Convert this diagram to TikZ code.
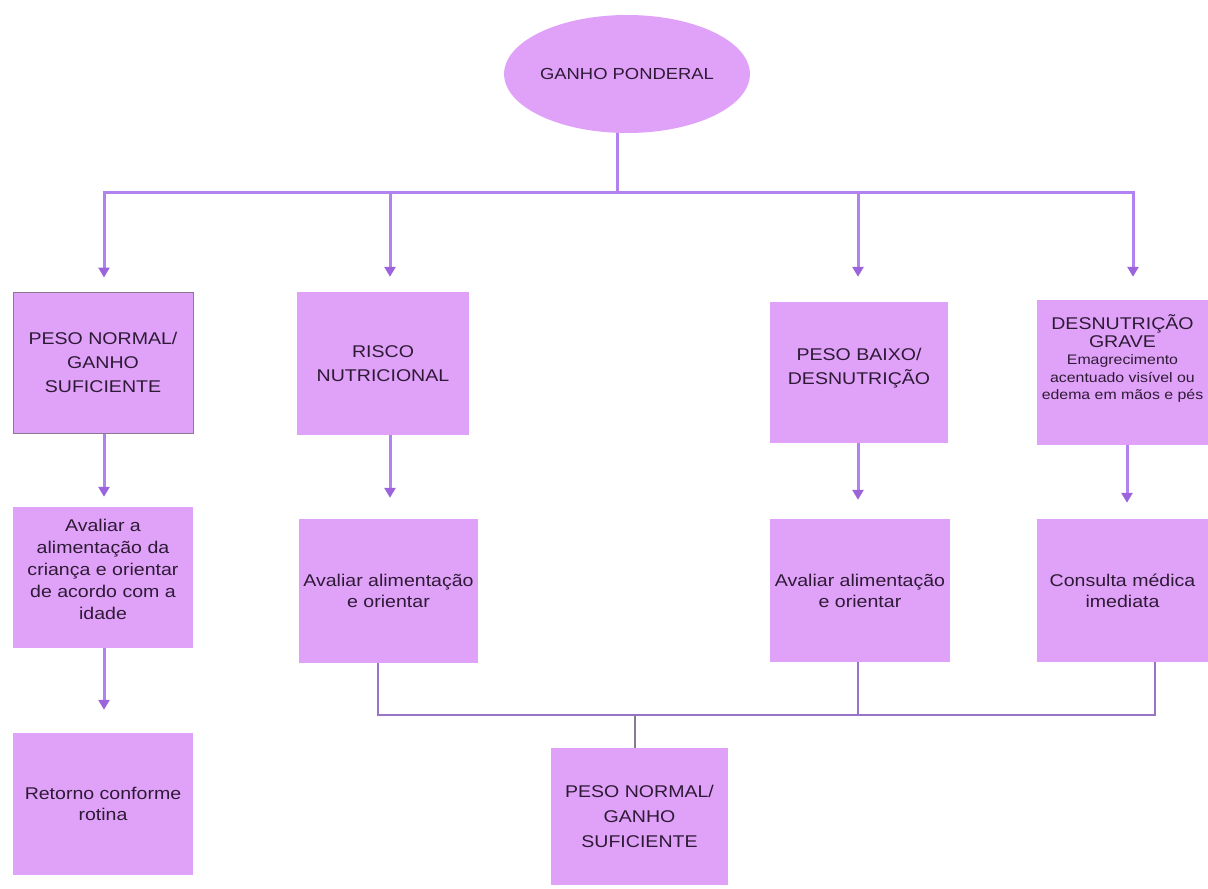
\documentclass[tikz,border=0pt]{standalone}
\usepackage{fontspec}
\setmainfont{Liberation Sans}[FakeStretch=1.15]
\usetikzlibrary{arrows.meta,shapes.geometric}
\definecolor{boxfill}{HTML}{E0A2F8}
\definecolor{txtcol}{HTML}{2E1A36}
\definecolor{arrcol}{HTML}{B283F0}
\definecolor{tipcol}{HTML}{9C64DC}
\definecolor{mergecol}{HTML}{9A72C8}
\definecolor{bordcol}{HTML}{8A7A90}
\newcommand{\smallfnt}{\fontsize{13.8}{17.5}\selectfont}
\tikzset{
  box/.style={rectangle, fill=boxfill, draw=none, align=center, inner sep=2pt,
    text=txtcol, font=\fontsize{17}{24}\selectfont},
  oval/.style={ellipse, fill=boxfill, draw=none, inner sep=0pt, text=txtcol,
    font=\fontsize{16}{20}\selectfont},
  bus/.style={draw=arrcol, line width=3pt},
  arr/.style={draw=arrcol, line width=3pt, -{Triangle[length=10pt,width=11pt,color=tipcol]}},
  merge/.style={draw=mergecol, line width=2pt},
}
\begin{document}
\begin{tikzpicture}[x=1pt,y=-1pt]
\useasboundingbox (0,0) rectangle (1208,889);
\fill[white] (0,0) rectangle (1208,889);

% top
\node[oval, minimum width=245, minimum height=118] (top) at (627,74) {GANHO PONDERAL};

% first row
\node[box, draw=bordcol, line width=1pt, minimum width=180, minimum height=141] (b1) at (103,362.5)
  {PESO NORMAL/\\GANHO\\SUFICIENTE};
\node[box, minimum width=172, minimum height=143] (b2) at (383,363.5)
  {RISCO\\NUTRICIONAL};
\node[box, minimum width=178, minimum height=141] (b3) at (859,372.5)
  {PESO BAIXO/\\DESNUTRIÇÃO\\[-12pt]};
\node[box, minimum width=171, minimum height=145] (b4) at (1122.5,372.5)
  {DESNUTRIÇÃO\\[-6.5pt]GRAVE\\[-6.5pt]\smallfnt Emagrecimento\\[-6.5pt]\smallfnt acentuado visível ou\\[-6.5pt]\smallfnt edema em mãos e pés\\[6pt]};

% second row
\node[box, minimum width=180, minimum height=141] (b5) at (103,577.5)
  {Avaliar a\\[-2pt]alimentação da\\[-2pt]criança e orientar\\[-2pt]de acordo com a\\[-2pt]idade\\[-8pt]};
\node[box, minimum width=179, minimum height=144] (b7) at (388.5,591)
  {Avaliar alimentação\\[-3pt]e orientar};
\node[box, minimum width=180, minimum height=143] (b8) at (860,590.5)
  {Avaliar alimentação\\[-3pt]e orientar};
\node[box, minimum width=171, minimum height=143] (b9) at (1122.5,590.5)
  {Consulta médica\\[-3pt]imediata};

% third row
\node[box, minimum width=180, minimum height=142] (b6) at (103,804)
  {Retorno conforme\\[-3pt]rotina};
\node[box, minimum width=177, minimum height=137] (b10) at (639.5,816.5)
  {PESO NORMAL/\\[1pt]GANHO\\[1pt]SUFICIENTE};

% bus from top
\coordinate (hub) at (617,192);
\coordinate (t1) at (104,192);
\coordinate (t2) at (390,192);
\coordinate (t3) at (858,192);
\coordinate (t4) at (1133,192);
\draw[bus] (top.south -| hub) -- (hub);
\draw[bus, line cap=rect] (t1) -- (t4);
\draw[arr, shorten >=14pt] (t1) -- (b1.north -| t1);
\draw[arr, shorten >=15pt] (t2) -- (b2.north -| t2);
\draw[arr, shorten >=25pt] (t3) -- (b3.north -| t3);
\draw[arr, shorten >=23pt] (t4) -- (b4.north -| t4);

% vertical arrows between rows
\coordinate (c1) at (104,0);
\coordinate (c2) at (390,0);
\coordinate (c3) at (858,0);
\coordinate (c4) at (1127,0);
\draw[arr, shorten >=10pt] (b1.south -| c1) -- (b5.north -| c1);
\draw[arr, shorten >=21pt] (b2.south -| c2) -- (b7.north -| c2);
\draw[arr, shorten >=19pt] (b3.south -| c3) -- (b8.north -| c3);
\draw[arr, shorten >=16pt] (b4.south -| c4) -- (b9.north -| c4);
\draw[arr, shorten >=23pt] (b5.south -| c1) -- (b6.north -| c1);

% merge lines
\coordinate (m1) at (378,715);
\coordinate (m2) at (858,715);
\coordinate (m3) at (1155,715);
\coordinate (mc) at (635,715);
\draw[merge] (b7.south -| m1) -- (m1) -- (m3) -- (b9.south -| m3);
\draw[merge] (b8.south -| m2) -- (m2);
\draw[merge, draw=bordcol, line width=1.6pt] (mc) -- (b10.north -| mc);
\end{tikzpicture}
\end{document}
